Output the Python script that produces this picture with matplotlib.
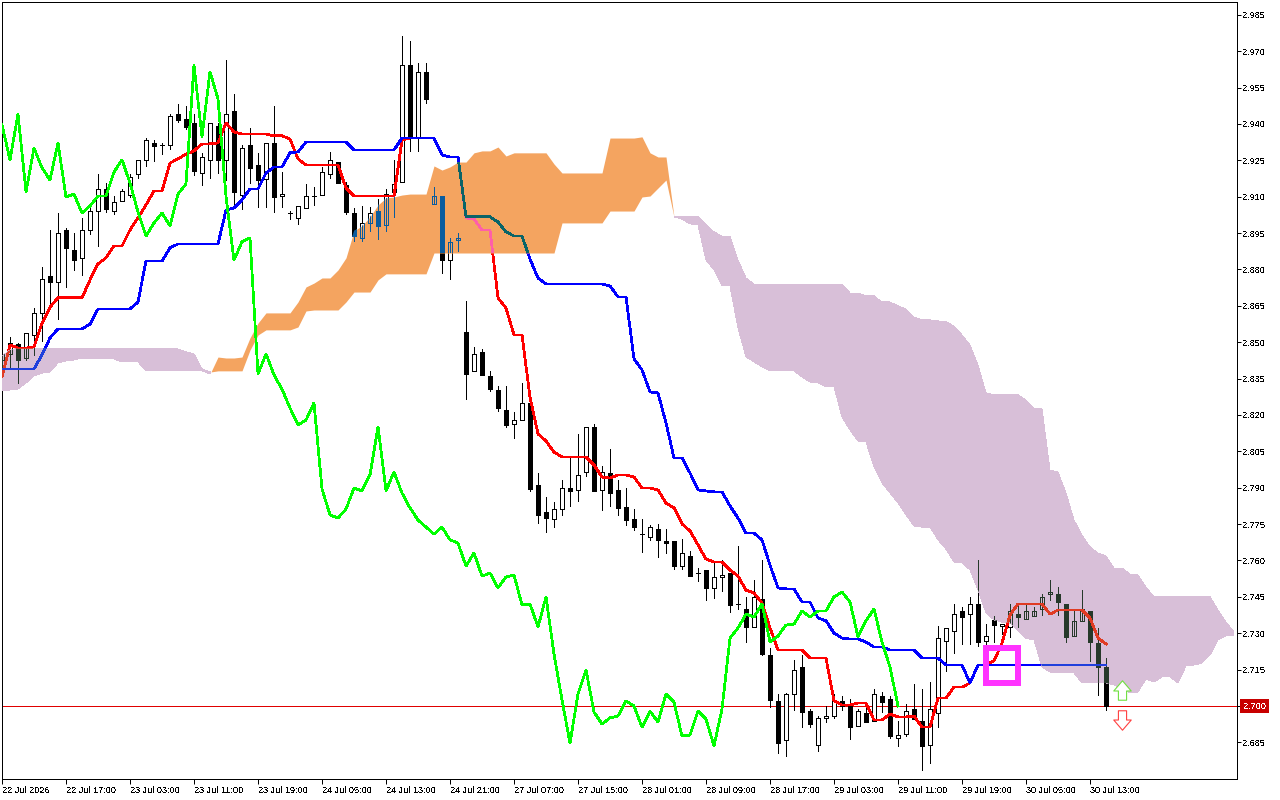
import matplotlib
matplotlib.use("Agg")
import matplotlib.pyplot as plt
import matplotlib.transforms as mtrans
from matplotlib.patches import Rectangle
from matplotlib.path import Path

plt.rcParams['font.family'] = ['Liberation Sans', 'DejaVu Sans']
plt.rcParams['text.antialiased'] = False

# hourly candles, 22 Jul - 30 Jul
opens = [2.8427,2.8452,2.8493,2.8435,2.8530,2.8621,2.8773,2.8749,2.8963,2.8881,
         2.8848,2.8963,2.9041,2.9132,2.9041,2.9083,2.9107,2.9194,2.9252,2.9322,
         2.9314,2.9314,2.9441,2.9421,2.9404,2.9198,2.9252,2.9392,2.9252,2.9454,
         2.9107,2.9314,2.9231,2.9173,2.9322,2.9103,2.9033,2.9013,2.9054,2.9103,
         2.9107,2.9194,2.9243,2.9149,2.9033,2.8930,2.8992,2.9041,2.8984,2.9120,
         2.9161,2.9643,2.9347,2.9615,2.9070,2.9103,2.8839,2.8922,2.8542,2.8382,
         2.8460,2.8361,2.8303,2.8221,2.8163,2.8179,2.8250,2.7911,2.7800,2.7771,
         2.7812,2.7899,2.7891,2.7965,2.8151,2.7891,2.7961,2.7891,2.7821,2.7771,
         2.7709,2.7697,2.7730,2.7680,2.7680,2.7577,2.7619,2.7548,2.7561,2.7487,
         2.7532,2.7548,2.7421,2.7400,2.7326,2.7441,2.7210,2.7021,2.6860,2.7049,
         2.7161,2.6979,2.6839,2.6951,2.6959,2.7021,2.7004,2.6918,2.6971,2.6938,
         2.7041,2.7029,2.6868,2.6885,2.6988,2.6938,2.6839,2.6971,2.7268,2.7309,
         2.7392,2.7379,2.7421,2.7268,2.7355,2.7330,2.7326,2.7379,2.7359,2.7371,
         2.7400,2.7462,2.7462,2.7421,2.7289,2.7351,2.7392,2.7260,2.7161]
highs = [2.8468,2.8522,2.8497,2.8538,2.8641,2.8810,2.8963,2.9033,2.8971,2.8951,
         2.9013,2.9066,2.9194,2.9157,2.9103,2.9132,2.9194,2.9252,2.9342,2.9334,
         2.9322,2.9441,2.9483,2.9474,2.9441,2.9281,2.9404,2.9404,2.9664,2.9524,
         2.9314,2.9384,2.9281,2.9322,2.9474,2.9202,2.9041,2.9062,2.9153,2.9140,
         2.9223,2.9285,2.9243,2.9161,2.9054,2.9062,2.9058,2.9091,2.9132,2.9252,
         2.9763,2.9742,2.9652,2.9652,2.9140,2.9103,2.8930,2.8951,2.8670,2.8481,
         2.8472,2.8382,2.8320,2.8320,2.8212,2.8332,2.8262,2.7961,2.7862,2.7841,
         2.7932,2.8023,2.8122,2.8151,2.8163,2.7990,2.8060,2.7932,2.7899,2.7812,
         2.7771,2.7745,2.7751,2.7730,2.7680,2.7689,2.7639,2.7569,2.7561,2.7594,
         2.7602,2.7548,2.7660,2.7450,2.7520,2.7602,2.7239,2.7049,2.7054,2.7190,
         2.7210,2.6988,2.6959,2.7000,2.7049,2.7041,2.7029,2.6988,2.7012,2.7070,
         2.7058,2.7041,2.6938,2.7008,2.7091,2.7070,2.7099,2.7330,2.7322,2.7421,
         2.7408,2.7450,2.7602,2.7338,2.7371,2.7338,2.7421,2.7421,2.7421,2.7408,
         2.7462,2.7520,2.7491,2.7421,2.7400,2.7478,2.7392,2.7322,2.7198]
lows = [2.8394,2.8394,2.8332,2.8427,2.8448,2.8505,2.8658,2.8596,2.8728,2.8798,
        2.8777,2.8947,2.8897,2.9037,2.9029,2.9083,2.9099,2.9177,2.9227,2.9248,
        2.9276,2.9297,2.9408,2.9380,2.9190,2.9149,2.9177,2.9198,2.9169,2.9066,
        2.9050,2.9157,2.9058,2.9058,2.9037,2.9058,2.9008,2.8988,2.9054,2.9066,
        2.9107,2.9177,2.9157,2.9029,2.8918,2.8918,2.8959,2.8926,2.8959,2.9017,
        2.9161,2.9289,2.9289,2.9487,2.9070,2.8786,2.8761,2.8876,2.8266,2.8382,
        2.8365,2.8299,2.8217,2.8151,2.8105,2.8179,2.7887,2.7755,2.7718,2.7738,
        2.7788,2.7825,2.7845,2.7949,2.7887,2.7808,2.7825,2.7788,2.7746,2.7726,
        2.7635,2.7685,2.7614,2.7631,2.7565,2.7565,2.7536,2.7516,2.7437,2.7445,
        2.7474,2.7388,2.7400,2.7264,2.7326,2.7210,2.6996,2.6806,2.6794,2.6984,
        2.6913,2.6913,2.6814,2.6934,2.6951,2.6984,2.6864,2.6918,2.6934,2.6938,
        2.6975,2.6868,2.6835,2.6876,2.6946,2.6736,2.6765,2.6913,2.7144,2.7219,
        2.7256,2.7256,2.7247,2.7252,2.7264,2.7297,2.7285,2.7326,2.7359,2.7371,
        2.7375,2.7437,2.7375,2.7264,2.7289,2.7351,2.7186,2.7045,2.6984]
closes = [2.8452,2.8497,2.8427,2.8538,2.8621,2.8761,2.8749,2.8951,2.8889,2.8839,
          2.8963,2.9041,2.9132,2.9050,2.9078,2.9124,2.9182,2.9252,2.9334,2.9309,
          2.9314,2.9433,2.9417,2.9388,2.9206,2.9264,2.9404,2.9252,2.9441,2.9120,
          2.9301,2.9219,2.9169,2.9322,2.9099,2.9111,2.9033,2.9062,2.9103,2.9103,
          2.9202,2.9252,2.9157,2.9037,2.8938,2.8992,2.9033,2.8980,2.9111,2.9153,
          2.9643,2.9347,2.9615,2.9503,2.9103,2.8839,2.8914,2.8930,2.8369,2.8452,
          2.8365,2.8307,2.8229,2.8159,2.8179,2.8250,2.7895,2.7788,2.7775,2.7812,
          2.7899,2.7887,2.7953,2.8151,2.7887,2.7965,2.7878,2.7817,2.7767,2.7738,
          2.7709,2.7738,2.7685,2.7672,2.7577,2.7631,2.7536,2.7548,2.7487,2.7532,
          2.7540,2.7417,2.7421,2.7326,2.7450,2.7214,2.7025,2.6847,2.7049,2.7148,
          2.6975,2.6926,2.6951,2.6959,2.7021,2.7000,2.6913,2.6979,2.6934,2.7049,
          2.7016,2.6876,2.6880,2.6979,2.6946,2.6835,2.6988,2.7280,2.7322,2.7379,
          2.7367,2.7421,2.7264,2.7289,2.7334,2.7338,2.7392,2.7367,2.7392,2.7392,
          2.7450,2.7470,2.7429,2.7285,2.7351,2.7400,2.7264,2.7161,2.7000]

# ichimoku lines
tenkan = [2.8357,2.8489,2.8476,2.8476,2.8481,2.8579,2.8645,2.8683,2.8683,2.8683,
          2.8683,2.8757,2.8823,2.8848,2.8897,2.8897,2.8963,2.9013,2.9066,2.9124,
          2.9124,2.9239,2.9256,2.9276,2.9289,2.9318,2.9318,2.9322,2.9404,2.9367,
          2.9359,2.9359,2.9359,2.9359,2.9351,2.9351,2.9338,2.9256,2.9231,2.9231,
          2.9231,2.9231,2.9231,2.9136,2.9103,2.9103,2.9103,2.9103,2.9103,2.9103,
          2.9334,2.9342,2.9342,2.9342,2.9342,2.9272,2.9264,2.9264,2.9013,2.9008,
          2.8963,2.8963,2.8683,2.8641,2.8530,2.8530,2.8274,2.8122,2.8093,2.8047,
          2.8027,2.8027,2.8027,2.8027,2.7994,2.7944,2.7940,2.7953,2.7953,2.7944,
          2.7899,2.7899,2.7891,2.7837,2.7817,2.7751,2.7722,2.7664,2.7606,2.7594,
          2.7594,2.7561,2.7536,2.7478,2.7466,2.7425,2.7322,2.7231,2.7231,2.7231,
          2.7231,2.7198,2.7198,2.7198,2.7021,2.7004,2.7004,2.7012,2.7012,2.6942,
          2.6942,2.6967,2.6955,2.6955,2.6959,2.6913,2.6913,2.7033,2.7033,2.7078,
          2.7078,2.7095,2.7169,2.7169,2.7186,2.7260,2.7375,2.7421,2.7421,2.7421,
          2.7421,2.7379,2.7396,2.7396,2.7396,2.7396,2.7363,2.7280,2.7256]
kijun = [2.8390,2.8390,2.8390,2.8390,2.8390,2.8448,2.8518,2.8555,2.8555,2.8555,
         2.8555,2.8575,2.8637,2.8637,2.8637,2.8637,2.8637,2.8666,2.8835,2.8835,
         2.8835,2.8889,2.8905,2.8905,2.8905,2.8905,2.8905,2.8905,2.9045,2.9054,
         2.9087,2.9132,2.9132,2.9198,2.9223,2.9223,2.9281,2.9285,2.9326,2.9326,
         2.9326,2.9326,2.9326,2.9326,2.9293,2.9293,2.9293,2.9293,2.9293,2.9293,
         2.9342,2.9342,2.9342,2.9342,2.9342,2.9272,2.9264,2.9264,2.9017,2.9017,
         2.9017,2.9017,2.8996,2.8955,2.8938,2.8938,2.8843,2.8765,2.8740,2.8740,
         2.8740,2.8740,2.8740,2.8740,2.8740,2.8740,2.8732,2.8687,2.8687,2.8431,
         2.8386,2.8295,2.8291,2.8167,2.8023,2.8023,2.7961,2.7891,2.7887,2.7883,
         2.7883,2.7825,2.7775,2.7713,2.7713,2.7685,2.7581,2.7487,2.7483,2.7483,
         2.7429,2.7429,2.7363,2.7351,2.7301,2.7280,2.7276,2.7276,2.7264,2.7243,
         2.7243,2.7231,2.7231,2.7231,2.7231,2.7198,2.7198,2.7198,2.7169,2.7169,
         2.7169,2.7095,2.7169,2.7169,2.7169,2.7169,2.7169,2.7169,2.7169,2.7169,
         2.7169,2.7169,2.7169,2.7169,2.7169,2.7169,2.7169,2.7169,2.7169]
chikou = [2.9396,2.9252,2.9441,2.9120,2.9301,2.9219,2.9169,2.9322,2.9099,2.9111,
          2.9033,2.9062,2.9103,2.9103,2.9202,2.9252,2.9157,2.9037,2.8938,2.8992,
          2.9033,2.8980,2.9111,2.9153,2.9643,2.9347,2.9615,2.9503,2.9103,2.8839,
          2.8914,2.8930,2.8369,2.8452,2.8365,2.8307,2.8229,2.8159,2.8179,2.8250,
          2.7895,2.7788,2.7775,2.7812,2.7899,2.7887,2.7953,2.8151,2.7887,2.7965,
          2.7878,2.7817,2.7767,2.7738,2.7709,2.7738,2.7685,2.7672,2.7577,2.7631,
          2.7536,2.7548,2.7487,2.7532,2.7540,2.7417,2.7421,2.7326,2.7450,2.7214,
          2.7025,2.6847,2.7049,2.7148,2.6975,2.6926,2.6951,2.6959,2.7021,2.7000,
          2.6913,2.6979,2.6934,2.7049,2.7016,2.6876,2.6880,2.6979,2.6946,2.6835,
          2.6988,2.7280,2.7322,2.7379,2.7367,2.7421,2.7264,2.7289,2.7334,2.7338,
          2.7392,2.7367,2.7392,2.7392,2.7450,2.7470,2.7429,2.7285,2.7351,2.7400,
          2.7264,2.7161,2.7000]
span_a = [2.8303,2.8303,2.8307,2.8332,2.8361,2.8373,2.8377,2.8415,2.8423,2.8427,
          2.8435,2.8431,2.8431,2.8431,2.8431,2.8419,2.8419,2.8419,2.8382,2.8382,
          2.8382,2.8382,2.8382,2.8382,2.8382,2.8382,2.8369,2.8439,2.8435,2.8435,
          2.8439,2.8518,2.8579,2.8621,2.8621,2.8621,2.8621,2.8666,2.8728,2.8744,
          2.8765,2.8765,2.8798,2.8848,2.8959,2.8980,2.9017,2.9066,2.9095,2.9099,
          2.9107,2.9111,2.9111,2.9111,2.9227,2.9210,2.9223,2.9243,2.9243,2.9281,
          2.9289,2.9289,2.9305,2.9268,2.9281,2.9281,2.9281,2.9281,2.9281,2.9235,
          2.9198,2.9198,2.9198,2.9198,2.9198,2.9198,2.9342,2.9342,2.9342,2.9342,
          2.9347,2.9281,2.9264,2.9264,2.9017,2.9008,2.8988,2.8984,2.8839,2.8798,
          2.8732,2.8732,2.8559,2.8439,2.8419,2.8398,2.8382,2.8382,2.8382,2.8382,
          2.8357,2.8336,2.8332,2.8316,2.8316,2.8192,2.8138,2.8093,2.8089,2.7986,
          2.7920,2.7878,2.7837,2.7788,2.7742,2.7738,2.7738,2.7685,2.7647,2.7594,
          2.7590,2.7561,2.7478,2.7384,2.7355,2.7346,2.7342,2.7313,2.7280,2.7272,
          2.7161,2.7140,2.7136,2.7140,2.7136,2.7095,2.7095,2.7095,2.7095,2.7087,
          2.7074,2.7054,2.7058,2.7111,2.7099,2.7120,2.7120,2.7095,2.7165,2.7169,
          2.7177,2.7210,2.7272,2.7289,2.7289]
span_b = [2.8443,2.8468,2.8476,2.8476,2.8476,2.8476,2.8476,2.8476,2.8476,2.8476,
          2.8476,2.8476,2.8476,2.8476,2.8476,2.8476,2.8476,2.8476,2.8476,2.8476,
          2.8476,2.8476,2.8472,2.8460,2.8452,2.8390,2.8377,2.8382,2.8382,2.8382,
          2.8382,2.8468,2.8530,2.8551,2.8551,2.8551,2.8551,2.8563,2.8629,2.8633,
          2.8633,2.8633,2.8633,2.8666,2.8707,2.8707,2.8707,2.8757,2.8782,2.8782,
          2.8782,2.8782,2.8782,2.8782,2.8868,2.8868,2.8868,2.8868,2.8868,2.8868,
          2.8868,2.8868,2.8868,2.8868,2.8868,2.8868,2.8868,2.8868,2.8868,2.8868,
          2.8992,2.8992,2.8992,2.8992,2.8992,2.8992,2.9041,2.9041,2.9041,2.9041,
          2.9099,2.9103,2.9136,2.9169,2.9017,2.9017,2.9017,2.9017,2.8984,2.8955,
          2.8938,2.8938,2.8839,2.8765,2.8740,2.8740,2.8740,2.8740,2.8740,2.8740,
          2.8740,2.8740,2.8740,2.8740,2.8740,2.8740,2.8703,2.8703,2.8691,2.8691,
          2.8666,2.8666,2.8650,2.8637,2.8604,2.8592,2.8592,2.8588,2.8584,2.8567,
          2.8530,2.8489,2.8406,2.8291,2.8283,2.8283,2.8283,2.8283,2.8262,2.8225,
          2.8225,2.7973,2.7965,2.7878,2.7767,2.7705,2.7656,2.7631,2.7619,2.7569,
          2.7569,2.7544,2.7540,2.7491,2.7450,2.7450,2.7450,2.7450,2.7450,2.7450,
          2.7450,2.7450,2.7396,2.7346,2.7305]

price_ticks = [2.685,2.700,2.715,2.730,2.745,2.760,2.775,2.790,2.805,2.820,2.835,
               2.850,2.865,2.880,2.895,2.910,2.925,2.940,2.955,2.970,2.985]
time_labels = ['22 Jul 2026','22 Jul 17:00','23 Jul 03:00','23 Jul 11:00','23 Jul 19:00',
               '24 Jul 05:00','24 Jul 13:00','24 Jul 21:00','27 Jul 07:00','27 Jul 15:00',
               '28 Jul 01:00','28 Jul 09:00','28 Jul 17:00','29 Jul 03:00','29 Jul 11:00',
               '29 Jul 19:00','30 Jul 05:00','30 Jul 13:00']
last_price = 2.700

bars = list(range(len(closes)))
fig = plt.figure(figsize=(12.8, 8), dpi=100, facecolor='white')
ax = fig.add_axes([2/1280, 21/800, 1235/1280, 777/800])

THIN = 0.6
THICK = 1.25


def draw_candles(edge, up_face, down_face, clip=None):
    up = [i for i in bars if closes[i] >= opens[i]]
    down = [i for i in bars if closes[i] < opens[i]]
    artists = [ax.vlines(bars, lows, highs, colors=edge, lw=THIN, zorder=3, antialiased=False)]
    for idx, face in ((up, up_face), (down, down_face)):
        tops = [max(opens[i], closes[i]) for i in idx]
        bots = [min(opens[i], closes[i]) for i in idx]
        heights = [t - b for t, b in zip(tops, bots)]
        b = ax.bar(idx, heights, bottom=bots, width=0.5, facecolor=face, edgecolor=edge,
                   linewidth=THIN, zorder=3.5, antialiased=False)
        artists.extend(b.patches)
    if clip is not None:
        for a in artists:
            a.set_zorder(a.get_zorder() + 3)
            a.set_clip_path(clip, ax.transData)


ax.axhline(last_price, color='#e00000', lw=THIN, zorder=2, antialiased=False)
draw_candles('black', 'white', 'black')
ax.plot(bars, tenkan, color='red', lw=THICK, zorder=4, antialiased=False)
ax.plot(bars, kijun, color='#0000ff', lw=THICK, zorder=4.2, antialiased=False)

cloud_x = list(range(len(span_a)))
bull = [a >= b for a, b in zip(span_a, span_b)]
bear = [a <= b for a, b in zip(span_a, span_b)]
orange = ax.fill_between(cloud_x, span_a, span_b, where=bull, interpolate=True,
                         color='#f4a460', lw=0, zorder=5, antialiased=False)
purple = ax.fill_between(cloud_x, span_a, span_b, where=bear, interpolate=True,
                         color='#d8bfd8', lw=0, zorder=5, antialiased=False)
orange_clip = Path.make_compound_path(*orange.get_paths())
purple_clip = Path.make_compound_path(*purple.get_paths())

# the cloud tints whatever sits under it
for clip, candle_col, red_col, blue_col in ((orange_clip, '#0a5c9e', '#ff5fa8', '#0a6468'),
                                            (purple_clip, '#26392a', '#e03c24', '#2040dc')):
    draw_candles(candle_col, 'none', candle_col, clip)
    for vals, col, z in ((tenkan, red_col, 7), (kijun, blue_col, 7.2)):
        line, = ax.plot(bars, vals, color=col, lw=THICK, zorder=z, antialiased=False)
        line.set_clip_path(clip, ax.transData)

ax.plot(range(len(chikou)), chikou, color='#00ff00', lw=THICK, zorder=8, antialiased=False)

# signal box and arrows
ax.add_patch(Rectangle((123, 2.7093), 4, 0.0148, fill=False, edgecolor='#ff33ff', lw=3.2,
                       zorder=9, antialiased=False, joinstyle='miter'))
arrow_up = Path([(0, 1), (0.9, -0.05), (0.42, -0.05), (0.42, -1), (-0.42, -1), (-0.42, -0.05),
                 (-0.9, -0.05), (0, 1)], closed=True)
arrow_down = Path([(0, -1), (0.9, 0.05), (0.42, 0.05), (0.42, 1), (-0.42, 1), (-0.42, 0.05),
                   (-0.9, 0.05), (0, -1)], closed=True)
ax.plot([140], [2.7064], marker=arrow_up, ms=14, mfc='white', mec='#70e040', mew=0.8,
        ls='none', zorder=9)
ax.plot([140], [2.6944], marker=arrow_down, ms=14, mfc='white', mec='#ff4040', mew=0.8,
        ls='none', zorder=9)

ax.set_xlim(0, 154.375)
ax.set_ylim(2.6699, 2.9903)
ax.set_xticks(bars[::8][:len(time_labels)])
ax.set_xticklabels(time_labels, ha='left')
ax.set_yticks(price_ticks)
ax.set_yticklabels(['%.3f' % p for p in price_ticks])
ax.yaxis.tick_right()
ax.tick_params(axis='x', length=3.6, width=0.72, pad=1.5, labelsize=6.6)
ax.tick_params(axis='y', length=3, width=0.72, pad=1, labelsize=6.6)
for s in ax.spines.values():
    s.set_linewidth(0.72)

trans = mtrans.blended_transform_factory(ax.transAxes, ax.transData)
ax.text(1241/1235, last_price, '%.3f' % last_price, transform=trans, color='white', fontsize=6.6,
        va='center', ha='left', zorder=20, clip_on=False,
        bbox=dict(facecolor='#c80000', edgecolor='none', pad=2))

fig.savefig('out.png', dpi=100)
